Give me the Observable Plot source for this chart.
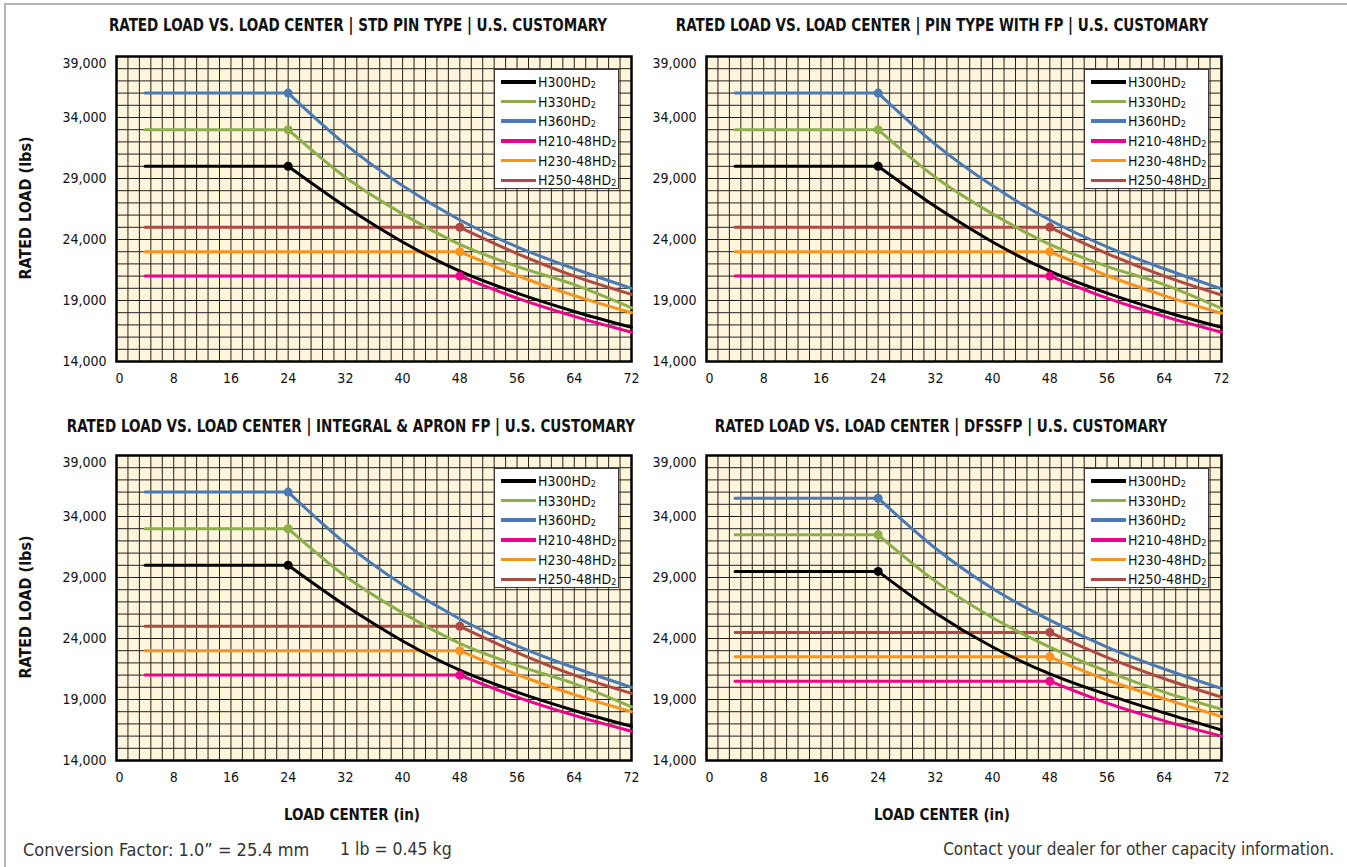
<!DOCTYPE html>
<html><head><meta charset="utf-8">
<script src="https://cdn.jsdelivr.net/npm/d3@7"></script>
<script src="https://cdn.jsdelivr.net/npm/@observablehq/plot@0.6"></script>
<style>
body{margin:0;background:#fff;}
#page{position:relative;width:1347px;height:867px;overflow:hidden;font-family:"Liberation Sans Narrow","DejaVu Sans Condensed",sans-serif;color:#111;}
#border{position:absolute;left:4px;top:3px;width:1400px;height:900px;border:2px solid #b5b5b5;box-sizing:border-box;}
.title{position:absolute;font-weight:bold;font-size:17px;transform:translate(-50%,-50%) scaleX(0.885);white-space:nowrap;}
.ytitle{position:absolute;font-weight:bold;font-size:16px;transform:translate(-50%,-50%) rotate(-90deg);white-space:nowrap;}
.xtitle{position:absolute;font-weight:bold;font-size:15px;transform:translate(-50%,-50%);white-space:nowrap;}
.foot{position:absolute;font-size:18px;color:#333;white-space:nowrap;transform:translateY(-50%);}
.panel{position:absolute;}
.legend{position:absolute;background:#fff;border:1px solid #3a3a3a;box-sizing:border-box;padding-top:2px;}
.legend .row{height:19.7px;display:flex;align-items:center;font-size:14px;white-space:nowrap;}
.legend .sw{width:35px;height:3.5px;margin-left:6px;margin-right:2px;}
.legend sub{font-size:9px;vertical-align:-1px;}
</style></head>
<body><div id="page"><div id="border"></div></div>
<script>
// ---------- data ----------
const seriesNames = ["H300HD2","H330HD2","H360HD2","H210-48HD2","H230-48HD2","H250-48HD2"];
const seriesColors = ["#000000","#8DAE4B","#4A79B3","#EC008C","#F7941D","#AE4A43"];
const drawOrder = ["H210-48HD2","H230-48HD2","H250-48HD2","H300HD2","H330HD2","H360HD2"];
const xTicks = [0,8,16,24,32,40,48,56,64,72];
const yTicks = [14000,19000,24000,29000,34000,39000];
const lcStd = [4,24,32,40,48,56,64,72];   // load center (in) for H300/H330/H360
const lc48  = [4,48,56,64,72];            // load center (in) for 48HD models

// STD PIN TYPE
const stdH300 = [30000,30000,26700,23800,21400,19600,18100,16800];
const stdH330 = [33000,33000,29100,26100,23600,21800,20300,18400];
const stdH360 = [36000,36000,31800,28400,25600,23400,21600,20000];
const stdH210 = [21000,21000,19200,17700,16400];
const stdH230 = [23000,23000,21050,19400,18000];
const stdH250 = [25000,25000,22850,21000,19500];
// PIN TYPE WITH FP
const fpH300 = [30000,30000,26700,23800,21400,19600,18100,16800];
const fpH330 = [33000,33000,29100,26100,23600,21800,20300,18350];
const fpH360 = [36000,36000,31800,28400,25600,23400,21600,19950];
const fpH210 = [21000,21000,19200,17700,16400];
const fpH230 = [23000,23000,21050,19400,17950];
const fpH250 = [25000,25000,22850,21000,19450];
// INTEGRAL & APRON FP
const iaH300 = [30000,30000,26700,23800,21400,19600,18100,16800];
const iaH330 = [33000,33000,29100,26100,23600,21800,20300,18400];
const iaH360 = [36000,36000,31800,28400,25600,23400,21600,20000];
const iaH210 = [21000,21000,19200,17700,16400];
const iaH230 = [23000,23000,21050,19400,18000];
const iaH250 = [25000,25000,22850,21000,19500];
// DFSSFP
const dfH300 = [29500,29500,26100,23300,21100,19400,17900,16500];
const dfH330 = [32500,32500,28700,25700,23300,21300,19600,18200];
const dfH360 = [35500,35500,31400,28100,25500,23300,21500,19900];
const dfH210 = [20500,20500,18700,17250,16000];
const dfH230 = [22500,22500,20600,19050,17600];
const dfH250 = [24500,24500,22450,20700,19200];

const panels = [
  {title:"RATED LOAD VS. LOAD CENTER | STD PIN TYPE | U.S. CUSTOMARY", left:0, top:30, cx:358, ty:25, ytitle:true,
   vals:[stdH300,stdH330,stdH360,stdH210,stdH230,stdH250]},
  {title:"RATED LOAD VS. LOAD CENTER | PIN TYPE WITH FP | U.S. CUSTOMARY", left:590, top:30, cx:942, ty:25, ytitle:false,
   vals:[fpH300,fpH330,fpH360,fpH210,fpH230,fpH250]},
  {title:"RATED LOAD VS. LOAD CENTER | INTEGRAL & APRON FP | U.S. CUSTOMARY", left:0, top:429, cx:351, ty:426, ytitle:true, xtitle:true,
   vals:[iaH300,iaH330,iaH360,iaH210,iaH230,iaH250]},
  {title:"RATED LOAD VS. LOAD CENTER | DFSSFP | U.S. CUSTOMARY", left:590, top:429, cx:941, ty:426, ytitle:false, xtitle:true,
   vals:[dfH300,dfH330,dfH360,dfH210,dfH230,dfH250]}
];

const xGrid = d3.range(46).map(i => i*1.6);
const yGrid = d3.range(14000, 39001, 1000);
const fontFam = '"Liberation Sans Narrow","DejaVu Sans Condensed",sans-serif';
const page = document.getElementById("page");

function build(p){
  const flat = [], curve = [], knees = [];
  for (const name of drawOrder){
    const i = seriesNames.indexOf(name);
    const xs = i < 3 ? lcStd : lc48;
    const ys = p.vals[i];
    xs.forEach((x,j)=>{
      const r = {series:name, x, y:ys[j]};
      if (j <= 1) flat.push(r);
      if (j >= 1) curve.push(r);
      if (j === 1) knees.push(r);
    });
  }
  const chart = Plot.plot({
    width:646, height:376, marginLeft:116, marginRight:15, marginTop:26, marginBottom:45,
    x:{domain:[0,72]}, y:{domain:[14000,39000]},
    color:{domain:seriesNames, range:seriesColors},
    style:{fontFamily:fontFam, fontSize:"14px", color:"#111", background:"transparent", overflow:"visible"},
    marks:[
      Plot.frame({fill:"#FFF5DB", stroke:null}),
      Plot.ruleX(xGrid, {x:d=>d, stroke:"#222", strokeWidth:1}),
      Plot.ruleY(yGrid, {y:d=>d, stroke:"#222", strokeWidth:1}),
      Plot.frame({stroke:"#000", strokeWidth:2.5}),
      Plot.axisX(xTicks.filter(d=>d!==0), {tickSize:0, tickPadding:12, label:null, tickFormat:d=>String(d), fontSize:14}),
      Plot.axisX([0], {tickSize:0, tickPadding:12, label:null, tickFormat:d=>String(d), dx:3, fontSize:14}),
      Plot.axisY(yTicks.filter(d=>d!==39000), {tickSize:0, tickPadding:10, label:null, tickFormat:d3.format(","), fontSize:14}),
      Plot.axisY([39000], {tickSize:0, tickPadding:10, label:null, tickFormat:d3.format(","), dy:7, fontSize:14}),
      Plot.line(flat, {x:"x", y:"y", z:"series", stroke:"series", strokeWidth:3}),
      Plot.line(curve, {x:"x", y:"y", z:"series", stroke:"series", strokeWidth:3, curve:"monotone-x"}),
      Plot.dot(knees, {x:"x", y:"y", fill:"series", r:4.5})
    ]
  });
  const wrap = document.createElement("div");
  wrap.className = "panel";
  wrap.style.left = p.left+"px"; wrap.style.top = p.top+"px";
  wrap.appendChild(chart);
  page.appendChild(wrap);

  // legend (HTML overlay inside plot frame)
  const frameRight = p.left + 116 + 515, frameTop = p.top + 26;
  const lg = document.createElement("div");
  lg.className = "legend";
  lg.style.left = (frameRight - 12 - 125) + "px";
  lg.style.top = (frameTop + 13) + "px";
  lg.style.width = "125px"; lg.style.height = "120px";
  seriesNames.forEach((n,i)=>{
    const row = document.createElement("div"); row.className = "row";
    const sw = document.createElement("div"); sw.className = "sw"; sw.style.background = seriesColors[i];
    const tx = document.createElement("span");
    tx.innerHTML = n.slice(0,-1) + "<sub>" + n.slice(-1) + "</sub>";
    row.appendChild(sw); row.appendChild(tx); lg.appendChild(row);
  });
  page.appendChild(lg);

  const t = document.createElement("div"); t.className="title"; t.textContent=p.title;
  t.style.left = p.cx+"px"; t.style.top = p.ty+"px"; page.appendChild(t);
  if (p.ytitle){
    const y = document.createElement("div"); y.className="ytitle"; y.textContent="RATED LOAD (lbs)";
    y.style.left = "25px"; y.style.top = (frameTop + 152)+"px"; page.appendChild(y);
  }
  if (p.xtitle){
    const x = document.createElement("div"); x.className="xtitle"; x.textContent="LOAD CENTER (in)";
    x.style.left = (p.cx + 1)+"px"; x.style.top = "815px"; page.appendChild(x);
  }
}
panels.forEach(build);

const f1 = document.createElement("div"); f1.className="foot";
f1.textContent = "Conversion Factor: 1.0” = 25.4 mm";
f1.style.left="23px"; f1.style.top="849px"; page.appendChild(f1);
const f1b = document.createElement("div"); f1b.className="foot";
f1b.textContent = "1 lb = 0.45 kg";
f1b.style.left="340px"; f1b.style.top="849px"; f1b.style.fontSize="17.5px"; page.appendChild(f1b);
const f2 = document.createElement("div"); f2.className="foot";
f2.textContent = "Contact your dealer for other capacity information.";
f2.style.right="13px"; f2.style.top="849px"; f2.style.fontSize="17px"; page.appendChild(f2);
</script>
</body></html>
